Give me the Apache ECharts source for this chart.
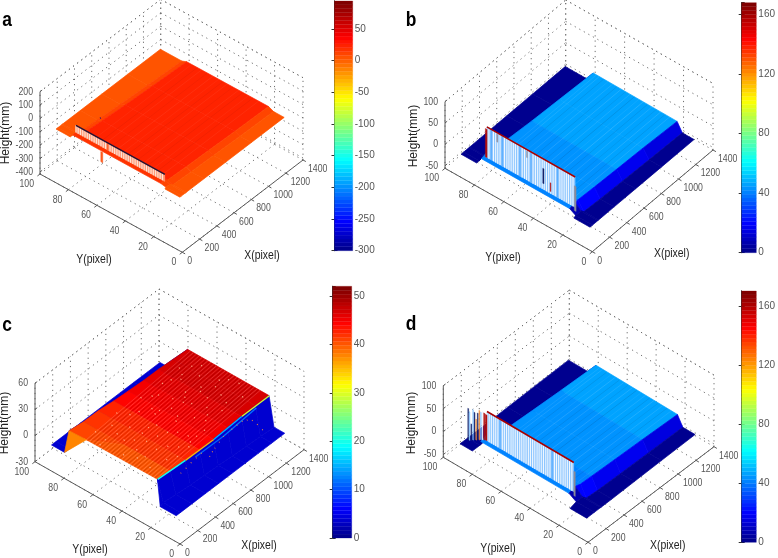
<!DOCTYPE html>
<html>
<head>
<meta charset="utf-8">
<title>Height maps</title>
<style>html,body{margin:0;background:#fff}#chart{width:778px;height:558px}</style>
<script src="https://cdn.jsdelivr.net/npm/echarts@6/dist/echarts.min.js"></script>
</head>
<body>
<div id="chart"></div>
<script>
// axis ticks
var xTicks = [0, 200, 400, 600, 800, 1000, 1200, 1400];
var yTicks = [0, 20, 40, 60, 80, 100];
var zTicksA = [-400, -300, -200, -100, 0, 100, 200];
var zTicksB = [-50, 0, 50, 100];
var zTicksC = [-30, 0, 30, 60];
var zTicksD = [-50, 0, 50, 100];

// surface sections, far to near: X, then Y and height at each station, then colour per cell
var xA = [1380, 1000, 700, 450, 245, 235, 190, 170];
var yA = [
    [99, 84, 80.5, 23, 19.5, 12],
    [99, 85, 81.5, 23.5, 20, 12],
    [99, 86, 82.5, 24, 20.5, 12],
    [99, 87, 83.5, 24.5, 21, 12],
    [99, 88, 84.5, 25, 21.5, 12],
    [99, 89.5, 88.5, 26.5, 23, 12],
    [99, 89, 88.5, 26.5, 23, 12],
    [99, 89, 88.5, 26.5, 22.5, 12]
];
var zA = [
    [-157, -157, -142, -140, -157, -157],
    [-157, -157, -142, -140, -157, -157],
    [-157, -157, -142, -140, -157, -157],
    [-157, -157, -142, -140, -157, -157],
    [-157, -157, -142, -140, -157, -157],
    [-157, -157, -146, -146, -157, -157],
    [-157, -157, -150, -150, -157, -157],
    [-157, -157, -157, -157, -157, -157]
];
var cA = [
    [2, 10, 24, 12, 2],
    [2, 10, 25, 12, 2],
    [2, 10, 26, 12, 2],
    [2, 10, 26, 12, 2],
    [2, 10, 22, 12, 2],
    [2, 2, 20, 8, 2],
    [2, null, null, null, 2]
];

var xB = [1377, 1000, 700, 450, 270, 262, 200, 170];
var yB = [
    [99, 84, 80, 23, 19.5, 11.5],
    [99, 85, 81, 24, 20, 11.5],
    [99, 86, 82, 24.5, 20.5, 11.5],
    [99, 87, 83, 25, 21, 11.5],
    [99, 88, 84, 25.5, 21.5, 11.5],
    [99, 89, 87, 27, 23, 11.5],
    [99, 88.5, 87, 27, 23, 11.5],
    [99, 88.5, 87, 27, 22.5, 11.5]
];
var zB = [
    [-50, -50, -28, -30, -50, -50],
    [-50, -50, -28, -30, -50, -50],
    [-50, -50, -29, -30, -50, -50],
    [-50, -50, -29, -30, -50, -50],
    [-50, -50, -29, -30, -50, -50],
    [-50, -50, -38, -38, -50, -50],
    [-50, -50, -42, -42, -50, -50],
    [-50, -50, -50, -50, -50, -50]
];
var cB = [
    [2, 8, 46, 14, 2],
    [2, 8, 45, 16, 2],
    [2, 8, 44, 18, 2],
    [2, 8, 42, 20, 2],
    [2, 8, 41, 20, 2],
    [2, 2, 41, 6, 2],
    [2, null, null, null, 2]
];

var xC = [1395, 1250, 1100, 950, 800, 650, 500, 350, 220, 170];
var yC = [
    [99, 84, 80, 60, 23.8, 20.4, 13],
    [99, 85, 81, 60, 24.3, 20.9, 13],
    [99, 86, 82, 60, 24.8, 21.4, 13],
    [99, 87, 83, 60, 25.3, 21.9, 13],
    [99, 88, 84.5, 60, 25.8, 22.4, 13],
    [99, 89, 85.5, 60, 26.3, 22.9, 13],
    [99, 89.5, 87, 60, 27, 23.4, 13],
    [99, 90, 88, 60, 28, 24.2, 13],
    [99, 90, 90, 78, 29, 25, 13],
    [99, 90, 90, 90, 24, 24, 13]
];
var zC = [
    [-23, -23, 10, 10, 10, -23, -23],
    [-23, -23, 9, 9, 9, -23, -23],
    [-23, -23, 8, 8, 8, -23, -23],
    [-23, -23, 6, 6, 6, -23, -23],
    [-23, -23, 4, 4, 4, -23, -23],
    [-23, -23, 3, 3, 3, -23, -23],
    [-23, -23, 2, 2, 2, -23, -23],
    [-23, -23, 0, 0, 0, -23, -23],
    [-23, -23, -2, -1, 0, -23, -23],
    [-23, -23, -23, -23, -23, -23, -23]
];
var cC = [
    [3.5, 3, 47, 47, 4, 3.5],
    [3.5, 3, 46.5, 46.5, 4, 3.5],
    [3.5, 3, 46, 46, 4, 3.5],
    [3.5, 3, 45, 45, 4, 3.5],
    [3.5, 3, 44, 44, 4, 3.5],
    [3.5, 3, 43, 43, 4, 3.5],
    [3.5, 3, 42, 42, 4, 3.5],
    [3.5, 3, 41, 40.5, 4, 3.5],
    [3.5, null, 38, null, 4, 3.5]
];

var xD = [1375, 1000, 700, 450, 335, 325, 255, 170];
var yD = [
    [99, 84, 80, 23.7, 20, 11.5],
    [99, 85, 81, 24.5, 20.5, 11.5],
    [99, 86, 82, 25, 21, 11.5],
    [99, 87, 83, 25.5, 21.5, 11.5],
    [99, 88, 85, 26, 22, 11.5],
    [99, 91, 90, 29, 24, 11.5],
    [99, 90.5, 90, 29, 24, 11.5],
    [99, 90.5, 90, 29, 23, 11.5]
];
var zD = [
    [-47, -47, -23, -26, -47, -47],
    [-48, -48, -24, -26, -48, -48],
    [-49, -49, -25, -26, -49, -49],
    [-50, -50, -26, -26, -50, -50],
    [-50, -50, -27, -27, -50, -50],
    [-50, -50, -36, -36, -50, -50],
    [-50, -50, -41, -41, -50, -50],
    [-50, -50, -50, -50, -50, -50]
];
var cD = [
    [2, 8, 46, 14, 2],
    [2, 8, 45, 16, 2],
    [2, 8, 44, 18, 2],
    [2, 8, 42, 20, 2],
    [2, 8, 41, 20, 2],
    [2, 2, 41, 6, 2],
    [2, null, null, null, 2]
];

// faint rows running along X on the top surface: Y and tone
var ribYA = [30, 34, 37, 41, 44, 48, 52, 55, 58, 62, 66, 70, 73, 77];
var ribTA = [.05, -.05, .04, -.05, .05, -.04, .05, -.05, .04, .06, -.04, .05, -.05, .04];
var ribYB = [28, 31, 34, 37, 40, 43, 46, 49, 52, 55, 58, 61, 64, 67, 70, 73, 76, 78];
var ribTB = [.1, -.08, .12, -.06, .1, -.08, .14, .06, -.1, .1, -.06, .12, -.08, .1, .06, -.08, .1, .08];
var ribYC = [30, 31, 32, 33, 34, 35, 36, 37, 38, 39, 40, 41, 42, 43, 44, 45, 46, 47, 48, 49, 50, 51, 52, 53, 54, 55, 56, 57, 58, 59, 60, 61, 62, 63, 64, 65, 66, 67, 68, 69, 70, 71, 72, 73, 74, 75, 76, 77, 78];
var ribTC = [.16, -.14, .2, -.12, .16, -.16, .22, -.12, .14, -.18, .2, -.1, .16, -.16, .2, -.14, .14, -.12, .22, -.16, .14, -.18, .16, -.1, .2, -.14, .18, -.16, .14, -.12, .2, -.16, .14, -.14, .18, -.12, .2, -.16, .12, -.14, .2, -.1, .16, -.18, .14, -.12, .2, -.14, .16];
var ribYD = [28, 31, 34, 37, 40, 43, 46, 49, 52, 55, 58, 61, 64, 67, 70, 73, 76, 78];
var ribTD = [.08, -.08, .1, -.06, .12, -.08, .1, .06, -.1, .12, -.06, .1, -.08, .12, .06, -.08, .1, .08];

// bright edges along the rim of the block in c: two ends of each piece and colour
var edgesC = [
    [1395, 23.6, 10, 1100, 24.6, 8, 30],
    [1100, 24.6, 8, 800, 25.6, 4, 15],
    [800, 25.6, 4, 500, 26.8, 2, 35],
    [500, 26.8, 2, 220, 28.8, 0, 20],
    [1250, 23.7, 7, 900, 24.8, 1, 12],
    [900, 24.8, 1, 600, 26, -1, 11]
];

// wall of stripes across the front of the block: Y edges and tone of the line in each stripe
var finYA = [89, 87.4, 85.8, 84.2, 82.6, 81, 79.4, 77.8, 76.2, 74.6, 73, 71.4, 69.8, 68.2, 66.6, 65, 63.4, 61.8, 60.2, 58.6, 57, 55.4, 53.8, 52.2, 50.6, 49, 47.4, 45.8, 44.2, 42.6, 41, 39.4, 37.8, 36.2, 34.6, 33, 31.4, 29.8, 28.2, 26.5];
var finTA = [0, 0, 0, 0, 0, 0, 0, 0, 0, 0, 0, 0, 0, 0, 2, 0, 0, 0, 0, 0, 0, 0, 0, 0, 0, 0, 0, 0, 0, 0, 0, 0, 0, 0, 0, 0, 0, 0, 0];
var finYB = [87, 85.6, 84, 82.5, 81, 79.6, 78, 76.5, 75, 73.4, 72, 70.5, 69, 67.6, 66, 64.5, 63, 61.4, 60, 58.5, 57, 55.6, 54, 52.5, 51, 49.4, 48, 46.5, 45, 43.6, 42, 40.5, 39, 37.4, 36, 34.5, 33, 31.6, 30, 28.5, 27];
var finTB = [0, 0, 2, 0, 0, 0, 0, 2, 0, 0, 0, 0, 0, 0, 0, 2, 0, 0, 0, 0, 2, 0, 0, 0, 0, 0, 0, 0, 0, 0, 0, 0, 2, 0, 0, 0, 0, 0, 0, 0];
var finYD = [90, 88.5, 87, 85.4, 84, 82.5, 81, 79.4, 78, 76.5, 75, 73.4, 72, 70.5, 69, 67.4, 66, 64.5, 63, 61.4, 60, 58.5, 57, 55.4, 54, 52.5, 51, 49.4, 48, 46.5, 45, 43.4, 42, 40.5, 39, 37.4, 36, 34.5, 33, 31.4, 30];
var finTD = [0, 0, 0, 0, 0, 0, 2, 0, 0, 0, 0, 0, 0, 0, 0, 0, 0, 0, 0, 0, 0, 0, 0, 0, 0, 0, 0, 0, 0, 0, 2, 0, 0, 0, 0, 0, 0, 0, 0, 0];

// single tall spikes: X, first Y, last Y, bottom, top, tone
var spikesA = [[190, 68.8, 67.4, -233, -157, 2]];
var spikesB = [
    [263, 88, 86.8, -50, 16, 4], [263, 27.6, 26.4, -58, 0, 6], [263, 49, 48.2, -36, -1, 3],
    [263, 80.2, 79.6, 0, 18, 6], [263, 60, 59.5, 3, 18, 6], [263, 44, 43.5, -45, -25, 4]
];
var spikesC = [];
var spikesD = [
    [240, 98, 97.4, -50, 19, 3], [245, 97.4, 96.8, -50, 12, 1], [255, 96.8, 96.2, -50, -15, 3],
    [265, 96.2, 95.6, -50, 16, 1], [272, 95.6, 95, -50, 10, 3], [280, 95, 94.4, -50, -5, 5],
    [288, 94.4, 93.8, -50, 8, 3], [296, 93.8, 93.2, -50, 14, 5], [304, 93.2, 92.6, -50, 10, 1],
    [312, 92.6, 92, -50, 12, 0], [320, 92, 91.2, -50, 8, 4], [325, 91.2, 90, -50, 6, 4],
    [325, 30, 29, -58, -5, 6]
];

// stray points on the surface: X, Y, height
var dotsA = [[459, 85.6, -140]];
var dotsB = [];
var dotsD = [];
var dotsC = [
    [300, 70, 0], [340, 45, 1], [380, 62, 1], [420, 35, 1], [440, 74, 2], [470, 52, 2], [510, 66, 2], [530, 41, 2], [560, 78, 3], [590, 58, 3],
    [620, 32, 3], [640, 48, 3], [680, 70, 3], [710, 38, 3], [730, 62, 4], [770, 50, 4], [800, 76, 4], [830, 34, 4], [850, 58, 5], [880, 44, 5],
    [900, 70, 5], [930, 62, 6], [960, 40, 6], [980, 52, 6], [1010, 74, 6], [1040, 60, 7], [1060, 36, 7], [1090, 48, 8], [1120, 68, 8], [1150, 56, 8],
    [1180, 44, 8], [1200, 74, 9], [1230, 62, 9], [1260, 34, 9], [1290, 52, 9], [1320, 66, 10], [1350, 42, 10], [560, 50, 3], [760, 66, 4], [1000, 58, 6],
    [260, 55, 0], [280, 38, 0], [320, 78, 0], [360, 52, 1], [400, 68, 1], [450, 44, 2], [490, 32, 2], [520, 58, 2], [570, 36, 3], [610, 72, 3],
    [650, 56, 3], [690, 44, 3], [740, 34, 4], [780, 62, 4], [820, 52, 4], [860, 72, 5], [910, 38, 5], [950, 56, 6], [1020, 44, 6], [1075, 72, 7],
    [1110, 54, 8], [1165, 70, 8], [1215, 50, 9], [1275, 70, 9], [1330, 48, 10], [240, 70, -1], [300, 48, 0], [430, 58, 1], [670, 34, 3], [1140, 38, 8]
];
var arcsC = [
    [693, 22, -4], [751, 22, 1], [847, 22, 7], [367, 22, 2], [482, 22, 5], [597, 22, 7], [942, 22, 8], [1058, 22, 8], [1173, 22, 0], [1288, 22, -19.5],
    [425, 22, 3], [540, 22, 6], [722, 22, -1], [800, 22, 4], [1000, 22, 8], [1115, 22, 5], [1230, 22, -9]
];

var barMax = { a: 94, b: 168, c: 52, d: 170 };

// layout of the four plots, in page pixels
var layout = [
    { key: 'a', O: [182.3, 252.3], XE: [303, 160], YE: [40, 174], zTopY: 91.7, zr: [-415, 200], cr: [-300, barMax.a], barInt: 50,
      bar: [334.5, 1, 18.2, 249.7], xl: [262, 256], yl: [94, 260], hl: [6, 133], ll: [7, 20],
      x: xA, y: yA, z: zA, c: cA, zt: zTicksA, ribY: ribYA, ribT: ribTA, ribX: [245, 1380], ribZ: [-141, -141],
      finX: 235, finY: finYA, finT: finTA, finZ: [-157, -103], finTop: '#2a1030', spikes: spikesA, dots: dotsA, dotCol: '#000080',
      tones: ['#ffe4d6', '#ff9a78', '#ff5a1e', '#401030', '#b01010', '#f09040', '#8a8a9a'] },
    { key: 'b', O: [592.3, 251.7], XE: [713, 150], YE: [445, 168.3], zTopY: 101.7, zr: [-56, 100], cr: [0, barMax.b], barInt: 40,
      bar: [741.7, 2.7, 18.3, 250], xl: [671.7, 253.3], yl: [503, 257.3], hl: [414, 136], ll: [411, 20],
      x: xB, y: yB, z: zB, c: cB, zt: zTicksB, ribY: ribYB, ribT: ribTB, ribX: [270, 1377], ribZ: [-29, -29],
      finX: 263, finY: finYB, finT: finTB, finZ: [-50, 21.5], finTop: '#a80000', spikes: spikesB, dots: dotsB, dotCol: '#000080',
      tones: ['#f0f7ff', '#8cc6ff', '#5aaeff', '#10206a', '#b01010', '#f09040', '#8a8a9a'] },
    { key: 'c', O: [180, 544], XE: [304, 449.7], YE: [35, 461.7], zTopY: 383.3, zr: [-30, 60], cr: [0, barMax.c], barInt: 10,
      bar: [332.7, 286.3, 19, 251.7], xl: [259, 545.7], yl: [90, 549.7], hl: [5, 423], ll: [7, 325.7],
      x: xC, y: yC, z: zC, c: cC, zt: zTicksC, ribY: ribYC, ribT: ribTC, ribX: [220, 1395], ribZ: [-1, 10],
      finX: null, finY: [], finT: [], finZ: [0, 0], finTop: null, spikes: spikesC, dots: dotsC, dotCol: '#ffb48e',
      tones: [] },
    { key: 'd', O: [588, 542.3], XE: [714, 446.7], YE: [443.3, 457.3], zTopY: 385.7, zr: [-56, 100], cr: [0, barMax.d], barInt: 40,
      bar: [741.7, 291, 18.3, 251.3], xl: [667.7, 545.7], yl: [498, 549], hl: [411.7, 423], ll: [411, 324.7],
      x: xD, y: yD, z: zD, c: cD, zt: zTicksD, ribY: ribYD, ribT: ribTD, ribX: [335, 1375], ribZ: [-26, -26],
      finX: 325, finY: finYD, finT: finTD, finZ: [-50, 14], finTop: '#a80000', spikes: spikesD, dots: dotsD, dotCol: '#000080',
      tones: ['#f0f7ff', '#8cc6ff', '#5aaeff', '#10206a', '#b01010', '#f09040', '#8a8a9a'] }
];

var FONT = '"Liberation Sans", Arial, sans-serif';

// matlab jet, 64 steps
var jetStops = [[0, 0, 0, 143], [.11, 0, 0, 255], [.36, 0, 255, 255], [.61, 255, 255, 0], [.86, 255, 0, 0], [1, 128, 0, 0]];
function jet(t) {
    t = Math.max(0, Math.min(.9999, t));
    t = Math.floor(t * 64) / 63;
    for (var i = 1; i < jetStops.length; i++) {
        if (t <= jetStops[i][0]) {
            var a = jetStops[i - 1], b = jetStops[i];
            var f = (t - a[0]) / (b[0] - a[0]);
            return 'rgb(' + Math.round(a[1] + f * (b[1] - a[1])) + ',' + Math.round(a[2] + f * (b[2] - a[2])) + ',' + Math.round(a[3] + f * (b[3] - a[3])) + ')';
        }
    }
    return 'rgb(128,0,0)';
}

function project(p, X, Y, Z) {
    var zf = (Z - p.zr[0]) / (p.zr[1] - p.zr[0]);
    return [
        p.O[0] + X / 1400 * (p.XE[0] - p.O[0]) + Y / 100 * (p.YE[0] - p.O[0]),
        p.O[1] + X / 1400 * (p.XE[1] - p.O[1]) + Y / 100 * (p.YE[1] - p.O[1]) - zf * (p.YE[1] - p.zTopY)
    ];
}

function buildFrame(p) {
    var items = [];
    var z0 = p.zr[0], z1 = p.zr[1];
    var grid = { stroke: '#6e6e6e', w: 1, dash: [1.2, 4] };
    var axis = { stroke: '#5a5a5a', w: 1 };
    function ln(a, b, s) { items.push({ pts: [a, b], stroke: s.stroke, w: s.w, dash: s.dash }); }
    xTicks.forEach(function(x) {
        ln([x, 0, z0], [x, 100, z0], grid);
        ln([x, 100, z0], [x, 100, z1], grid);
        ln([x, 0, z0], [x, -2, z0], axis);
    });
    yTicks.forEach(function(y) {
        ln([0, y, z0], [1400, y, z0], grid);
        ln([1400, y, z0], [1400, y, z1], grid);
        ln([0, y, z0], [-30, y, z0], axis);
    });
    p.zt.forEach(function(z) {
        ln([0, 100, z], [1400, 100, z], grid);
        ln([1400, 100, z], [1400, 0, z], grid);
        ln([0, 100, z], [25, 100, z], axis);
    });
    ln([0, 100, z1], [1400, 100, z1], grid);
    ln([1400, 100, z1], [1400, 0, z1], grid);
    ln([0, 0, z0], [1400, 0, z0], axis);
    ln([0, 0, z0], [0, 100, z0], axis);
    ln([0, 100, z0], [0, 100, z1], axis);
    return items;
}

function buildSurface(p) {
    var items = [];
    var rng = p.cr[1] - p.cr[0];
    function col(v) { return jet((v - p.cr[0]) / rng); }
    for (var i = 0; i < p.x.length - 1; i++) {
        for (var j = 0; j < p.y[i].length - 1; j++) {
            if (p.c[i][j] === null) continue;
            items.push({
                pts: [
                    [p.x[i], p.y[i][j], p.z[i][j]], [p.x[i], p.y[i][j + 1], p.z[i][j + 1]],
                    [p.x[i + 1], p.y[i + 1][j + 1], p.z[i + 1][j + 1]], [p.x[i + 1], p.y[i + 1][j], p.z[i + 1][j]]
                ],
                fill: col(p.c[i][j]), stroke: col(p.c[i][j]), w: .7
            });
        }
    }
    p.ribY.forEach(function(y, k) {
        var t = p.ribT[k];
        items.push({
            pts: [[p.ribX[0], y, p.ribZ[0]], [p.ribX[1], y, p.ribZ[1]]],
            stroke: t > 0 ? 'rgba(255,255,255,' + t + ')' : 'rgba(0,0,0,' + (-t) + ')', w: 1
        });
    });
    p.dots.forEach(function(d) {
        items.push({ pts: [[d[0], d[1], d[2]], [d[0] + 8, d[1], d[2]]], stroke: p.dotCol, w: 1.4 });
    });
    if (p.key === 'c') {
        edgesC.forEach(function(e) {
            items.push({ pts: [[e[0], e[1], e[2]], [e[3], e[4], e[5]]], stroke: col(e[6]), w: 1.3 });
        });
        arcsC.forEach(function(d) {
            items.push({ pts: [[d[0], d[1], d[2]], [d[0] + 7, d[1], d[2]]], stroke: '#ff9a30', w: 1.1 });
        });
    }
    if (p.finX !== null) {
        for (var k = 0; k < p.finT.length; k++) {
            var base = p.tones[1];
            items.push({
                pts: [
                    [p.finX, p.finY[k], p.finZ[0]], [p.finX, p.finY[k + 1], p.finZ[0]],
                    [p.finX, p.finY[k + 1], p.finZ[1]], [p.finX, p.finY[k], p.finZ[1]]
                ],
                fill: base, stroke: base, w: .3
            });
            items.push({
                pts: [[p.finX, p.finY[k], p.finZ[0]], [p.finX, p.finY[k], p.finZ[1]]],
                stroke: p.tones[p.finT[k]], w: 1.1
            });
        }
        items.push({
            pts: [[p.finX, p.finY[0], p.finZ[1]], [p.finX, p.finY[p.finY.length - 1], p.finZ[1]]],
            stroke: p.finTop, w: 1.5
        });
    }
    p.spikes.forEach(function(s) {
        var tone = p.tones[s[5]];
        items.push({
            pts: [[s[0], s[1], s[3]], [s[0], s[2], s[3]], [s[0], s[2], s[4]], [s[0], s[1], s[4]]],
            fill: tone, stroke: tone, w: .4
        });
    });
    return items;
}

function buildText(p) {
    var items = [];
    var z0 = p.zr[0];
    xTicks.forEach(function(x) {
        var q = project(p, x, 0, z0);
        items.push({ text: String(x), x: q[0] + 5, y: q[1] + 9, align: 'left' });
    });
    yTicks.forEach(function(y) {
        var q = project(p, 0, y, z0);
        items.push({ text: String(y), x: q[0] - 6, y: q[1] + 10, align: 'right' });
    });
    p.zt.forEach(function(z) {
        var q = project(p, 0, 100, z);
        items.push({ text: String(z), x: q[0] - 7, y: q[1], align: 'right' });
    });
    items.push({ text: 'X(pixel)', x: p.xl[0], y: p.xl[1], align: 'center', title: true });
    items.push({ text: 'Y(pixel)', x: p.yl[0], y: p.yl[1], align: 'center', title: true });
    items.push({ text: 'Height(mm)', x: p.hl[0], y: p.hl[1], align: 'center', title: true, rot: Math.PI / 2 });
    items.push({ text: p.key, x: p.ll[0], y: p.ll[1], align: 'center', letter: true });
    return items;
}

function pathSeries(items) {
    return {
        type: 'custom',
        coordinateSystem: 'cartesian2d',
        xAxisIndex: 0,
        yAxisIndex: 0,
        silent: true,
        animation: false,
        clip: false,
        data: items.map(function(_, i) { return [i, 0]; }),
        renderItem: function(params, api) {
            var it = items[params.dataIndex];
            var pts = it.pts.map(function(q) { return api.coord(project(it.p, q[0], q[1], q[2])); });
            return {
                type: it.fill ? 'polygon' : 'polyline',
                shape: { points: pts },
                style: { fill: it.fill || null, stroke: it.stroke, lineWidth: it.w, lineDash: it.dash || null }
            };
        }
    };
}

function textSeries(items) {
    return {
        type: 'custom',
        coordinateSystem: 'cartesian2d',
        xAxisIndex: 0,
        yAxisIndex: 0,
        silent: true,
        animation: false,
        clip: false,
        data: items.map(function(_, i) { return [i, 0]; }),
        renderItem: function(params, api) {
            var it = items[params.dataIndex];
            var q = api.coord([it.x, it.y]);
            var font = it.letter ? 'bold 20px ' + FONT : (it.title ? '12px ' + FONT : '10.5px ' + FONT);
            var sx = it.rot ? 1 : (it.title || it.letter ? .87 : .83);
            return {
                type: 'text',
                x: q[0],
                y: q[1],
                rotation: it.rot || 0,
                scaleX: sx,
                style: {
                    text: it.text,
                    font: font,
                    fill: it.letter ? '#000' : (it.title ? '#222' : '#555'),
                    align: it.align,
                    verticalAlign: 'middle'
                }
            };
        }
    };
}

function barSeries(p, k) {
    var rows = [];
    for (var i = 0; i < 64; i++) rows.push([i, p.cr[0] + (p.cr[1] - p.cr[0]) * i / 64]);
    var h = (p.cr[1] - p.cr[0]) / 64;
    return {
        type: 'custom',
        coordinateSystem: 'cartesian2d',
        xAxisIndex: k + 1,
        yAxisIndex: 1 + 2 * k,
        silent: true,
        animation: false,
        data: rows,
        renderItem: function(params, api) {
            var lo = api.value(1);
            var a = api.coord([0, lo]), b = api.coord([1, lo + h]);
            var fill = jet((lo + h / 2 - p.cr[0]) / (p.cr[1] - p.cr[0]));
            return {
                type: 'rect',
                shape: { x: a[0], y: b[1], width: b[0] - a[0], height: a[1] - b[1] },
                style: { fill: fill, stroke: fill, lineWidth: .3 }
            };
        }
    };
}

var grids = [{ left: 0, top: 0, width: 778, height: 558 }];
var xAxes = [{ type: 'value', min: 0, max: 778, show: false, gridIndex: 0 }];
var yAxes = [{ type: 'value', min: 0, max: 558, inverse: true, show: false, gridIndex: 0 }];
var series = [];

layout.forEach(function(p, k) {
    grids.push({ left: p.bar[0], top: p.bar[1], width: p.bar[2], height: p.bar[3], show: false });
    xAxes.push({ type: 'value', min: 0, max: 1, show: false, gridIndex: k + 1 });
    var line = { show: true, lineStyle: { color: '#333', width: 1 } };
    yAxes.push({
        type: 'value', gridIndex: k + 1, position: 'right', min: p.cr[0], max: p.cr[1], interval: p.barInt,
        splitLine: { show: false }, axisLine: line,
        axisTick: { inside: true, length: 3, lineStyle: { color: '#333' } },
        axisLabel: { color: '#555', fontSize: 10, fontFamily: FONT, margin: 2, showMaxLabel: false }
    });
    yAxes.push({
        type: 'value', gridIndex: k + 1, position: 'left', min: p.cr[0], max: p.cr[1], interval: p.barInt,
        splitLine: { show: false }, axisLine: line,
        axisTick: { inside: true, length: 3, lineStyle: { color: '#333' } },
        axisLabel: { show: false }
    });
    series.push(barSeries(p, k));

    var frame = buildFrame(p), surf = buildSurface(p);
    frame.concat(surf).forEach(function(it) { it.p = p; });
    series.push(pathSeries(frame));
    series.push(pathSeries(surf));
    series.push(textSeries(buildText(p)));
});

var chart = echarts.init(document.getElementById('chart'), null, { renderer: 'canvas' });
chart.setOption({
    animation: false,
    backgroundColor: '#fff',
    grid: grids,
    xAxis: xAxes,
    yAxis: yAxes,
    series: series
});
</script>
</body>
</html>
